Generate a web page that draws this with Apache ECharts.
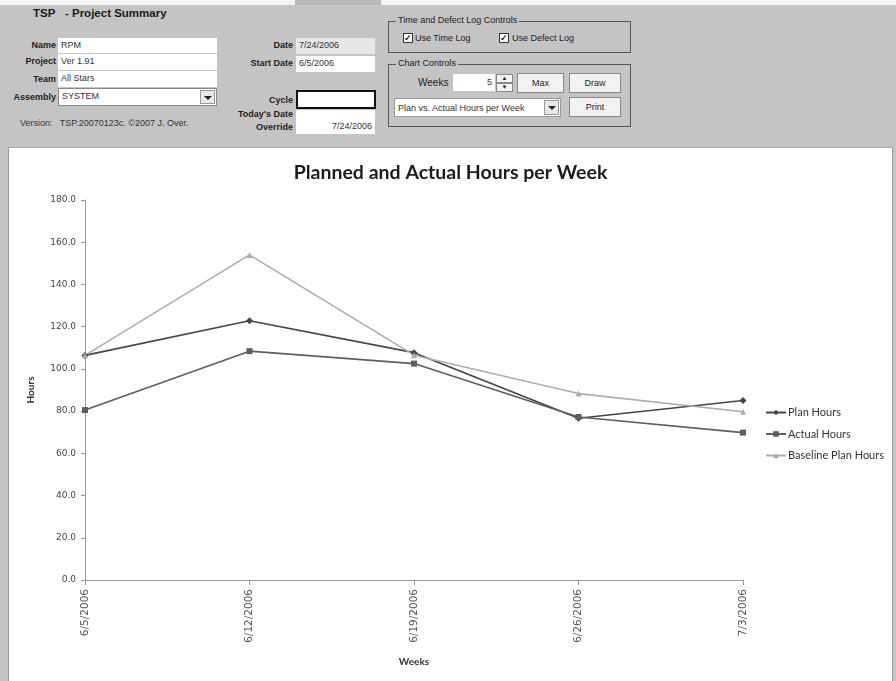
<!DOCTYPE html>
<html>
<head>
<meta charset="utf-8">
<title>TSP - Project Summary</title>
<script src="https://cdn.jsdelivr.net/npm/echarts@6/dist/echarts.min.js"></script>
<style>
  html, body { margin: 0; padding: 0; }
  body {
    width: 896px; height: 681px; position: relative; overflow: hidden;
    background: #c4c4c4;
    font-family: "Liberation Sans", Arial, sans-serif; color: #222;
  }
  .abs { position: absolute; white-space: nowrap; }
  .topstrip { left: 0; top: 0; width: 896px; height: 5px; background: #f4f4f4; }
  .tab { left: 295px; top: 0; width: 86px; height: 5px; background: #b8b8b8; }
  .heading { font-weight: bold; font-size: 11.5px; color: #1a1a1a; }
  .lbl { font-weight: bold; font-size: 9px; text-align: right; color: #1e1e1e; }
  .box { background: #fff; font-size: 9px; line-height: 14px; padding-left: 3px; box-sizing: border-box; color: #333; }
  .grey { background: #e6e6e6; }
  .dd { position: absolute; right: 1px; top: 1px; width: 15px; bottom: 1px; background: #e8e8e8; border: 1px solid #999; box-sizing: border-box; }
  .dd:after { content: ""; position: absolute; left: 3px; top: 5px; border-left: 4px solid transparent; border-right: 4px solid transparent; border-top: 4px solid #222; }
  .fs { border: 1px solid #555; box-sizing: border-box; }
  .legend-t { font-size: 9px; background: #c4c4c4; padding: 0 2px; color: #222; }
  .chk { width: 10px; height: 10px; background: #fff; border: 1px solid #333; box-sizing: border-box; font-size: 9px; line-height: 8px; text-align: center; font-weight: bold; }
  .ctl { font-size: 9px; color: #222; }
  .btn { background: #f2f2f2; border: 1px solid #888; box-sizing: border-box; font-size: 9px; text-align: center; color: #222; }
  #panel { position: absolute; left: 8px; top: 147px; width: 885px; height: 534px; background: #fff; border-left: 1px solid #999; border-right: 1px solid #999; border-top: 1px solid #aaa; box-sizing: border-box; }
  #chart { position: absolute; left: 0; top: 0; width: 883px; height: 533px; }
</style>
</head>
<body>
<div class="abs topstrip"></div>
<div class="abs tab"></div>

<!-- project header -->
<div class="abs heading" style="left:33px; top:7px;">TSP&nbsp;&nbsp;&nbsp;- Project Summary</div>

<div class="abs lbl" style="left:0; width:56px; top:40px;">Name</div>
<div class="abs box" style="left:58px; top:38px; width:159px; height:15px;">RPM</div>
<div class="abs lbl" style="left:0; width:56px; top:56px;">Project</div>
<div class="abs box" style="left:58px; top:54px; width:159px; height:16px;">Ver 1.91</div>
<div class="abs lbl" style="left:0; width:56px; top:74px;">Team</div>
<div class="abs box" style="left:58px; top:71px; width:159px; height:16px;">All Stars</div>
<div class="abs lbl" style="left:0; width:56px; top:92px;">Assembly</div>
<div class="abs box" style="left:58px; top:88px; width:159px; height:18px; border:1px solid #888;">SYSTEM<span class="dd"></span></div>
<div class="abs ctl" style="left:20px; top:118px; color:#333;">Version:&nbsp;&nbsp; TSP.20070123c. ©2007 J. Over.</div>

<div class="abs lbl" style="left:200px; width:93px; top:40px;">Date</div>
<div class="abs box grey" style="left:296px; top:38px; width:79px; height:16px;">7/24/2006</div>
<div class="abs lbl" style="left:200px; width:93px; top:58px;">Start Date</div>
<div class="abs box" style="left:296px; top:56px; width:79px; height:16px;">6/5/2006</div>
<div class="abs lbl" style="left:200px; width:93px; top:95px;">Cycle</div>
<div class="abs box" style="left:296px; top:90px; width:80px; height:19px; border:2px solid #111;"></div>
<div class="abs lbl" style="left:200px; width:93px; top:109px;">Today's Date</div>
<div class="abs lbl" style="left:200px; width:93px; top:122px;">Override</div>
<div class="abs box" style="left:296px; top:110px; width:79px; height:24px; text-align:right; padding-right:3px; padding-top:9px;">7/24/2006</div>

<!-- log controls -->
<div class="abs fs" style="left:388px; top:21px; width:243px; height:32px;"></div>
<div class="abs legend-t" style="left:396px; top:15px;">Time and Defect Log Controls</div>
<div class="abs chk" style="left:403px; top:33px;">✓</div>
<div class="abs ctl" style="left:415px; top:33px;">Use Time Log</div>
<div class="abs chk" style="left:499px; top:33px;">✓</div>
<div class="abs ctl" style="left:512px; top:33px;">Use Defect Log</div>

<!-- chart controls -->
<div class="abs fs" style="left:388px; top:64px; width:243px; height:63px;"></div>
<div class="abs legend-t" style="left:396px; top:58px;">Chart Controls</div>
<div class="abs ctl" style="left:418px; top:77px; font-size:10px;">Weeks</div>
<div class="abs box" style="left:453px; top:74px; width:42px; height:17px; text-align:right; padding-right:3px; line-height:17px;">5</div>
<div class="abs btn" style="left:496px; top:74px; width:17px; height:9px; font-size:6px; line-height:7px;">▲</div>
<div class="abs btn" style="left:496px; top:83px; width:17px; height:9px; font-size:6px; line-height:7px;">▼</div>
<div class="abs btn" style="left:517px; top:73px; width:47px; height:20px; line-height:18px;">Max</div>
<div class="abs btn" style="left:569px; top:73px; width:52px; height:20px; line-height:18px;">Draw</div>
<div class="abs box" style="left:394px; top:98px; width:167px; height:19px; line-height:19px; border:1px solid #999;">Plan vs. Actual Hours per Week<span class="dd"></span></div>
<div class="abs btn" style="left:569px; top:97px; width:52px; height:20px; line-height:18px;">Print</div>

<div id="panel"><div id="chart"></div></div>

<script>
// Week-by-week totals for the project
const weeks = ['6/5/2006', '6/12/2006', '6/19/2006', '6/26/2006', '7/3/2006'];
const planHours = [106.4, 122.8, 107.7, 76.6, 85.0];
const actualHours = [80.5, 108.4, 102.5, 77.2, 69.8];
const baselinePlanHours = [106.4, 154.0, 106.5, 88.3, 79.7];
const yTicks = { min: 0, max: 180, step: 20 };

const chart = echarts.init(document.getElementById('chart'), null, { renderer: 'canvas' });

const chartFont = 'Lato, "Open Sans", sans-serif';

function lineSeries(name, data, color, symbol, size) {
  return {
    name: name,
    type: 'line',
    data: data,
    symbol: symbol,
    symbolSize: size,
    showAllSymbol: true,
    itemStyle: { color: color },
    lineStyle: { color: color, width: 1.6 },
    emphasis: { disabled: true },
    z: 3
  };
}

chart.setOption({
  animation: false,
  backgroundColor: '#ffffff',
  textStyle: { fontFamily: chartFont },
  title: {
    text: 'Planned and Actual Hours per Week',
    left: 'center',
    top: 10,
    textStyle: { fontFamily: chartFont, fontSize: 19.5, fontWeight: 'bold', color: '#1c1c1c' }
  },
  grid: { left: 76, right: 149, top: 52, bottom: 101, containLabel: false },
  legend: {
    orient: 'vertical',
    left: 756,
    top: 259,
    padding: 0,
    itemWidth: 20,
    itemHeight: 7,
    itemGap: 10.5,
    textStyle: { fontFamily: chartFont, fontSize: 11, color: '#333', padding: [0, 0, 0, -3] },
    data: ['Plan Hours', 'Actual Hours', 'Baseline Plan Hours']
  },
  xAxis: {
    type: 'category',
    data: weeks,
    boundaryGap: false,
    name: 'Weeks',
    nameLocation: 'middle',
    nameGap: 77,
    nameTextStyle: { fontFamily: chartFont, fontSize: 10, fontWeight: 'bold', color: '#333' },
    axisLine: { lineStyle: { color: '#9a9a9a', width: 1 } },
    axisTick: { alignWithLabel: true, length: 5, lineStyle: { color: '#9a9a9a' } },
    axisLabel: { rotate: 90, margin: 9, fontFamily: '"DejaVu Sans", sans-serif', fontSize: 10.5, color: '#555' }
  },
  yAxis: {
    type: 'value',
    min: yTicks.min,
    max: yTicks.max,
    interval: yTicks.step,
    name: 'Hours',
    nameLocation: 'middle',
    nameGap: 49,
    nameTextStyle: { fontFamily: chartFont, fontSize: 10, fontWeight: 'bold', color: '#333' },
    axisLine: { show: true, lineStyle: { color: '#9a9a9a', width: 1 } },
    axisTick: { show: true, length: 4, lineStyle: { color: '#9a9a9a' } },
    splitLine: { show: false },
    axisLabel: {
      margin: 9,
      fontFamily: '"DejaVu Sans", sans-serif',
      fontSize: 9,
      color: '#444',
      formatter: v => v.toFixed(1)
    }
  },
  series: [
    lineSeries('Plan Hours', planHours, '#454545', 'diamond', 7),
    lineSeries('Actual Hours', actualHours, '#5e5e5e', 'rect', 6),
    lineSeries('Baseline Plan Hours', baselinePlanHours, '#adadad', 'triangle', 6)
  ]
});
</script>
</body>
</html>
